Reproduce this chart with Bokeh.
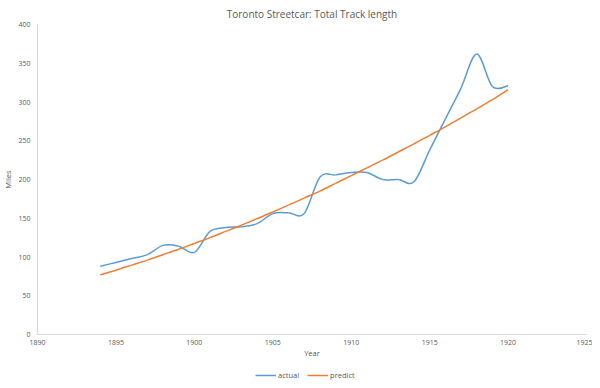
from bokeh.plotting import figure
from bokeh.layouts import column
from bokeh.models import Range1d, FixedTicker, Legend, LegendItem, ColumnDataSource
from bokeh.embed import file_html
from bokeh.resources import INLINE

years = [1894, 1895, 1896, 1897, 1898, 1899, 1900, 1901, 1902, 1903, 1904, 1905, 1906,
         1907, 1908, 1909, 1910, 1911, 1912, 1913, 1914, 1915, 1916, 1917, 1918, 1919, 1920]
actual = [88, 93, 98, 103, 115, 114, 106, 133, 138, 139, 143, 156, 157,
          156, 203, 206, 209, 209, 200, 200, 197, 238, 278, 318, 362, 320, 321]
predict = [77, 83, 89.5, 96, 103, 110, 117.5, 125, 133, 141, 149.5, 158, 167,
           176, 185, 195, 205, 215, 225, 235.5, 246, 257, 268, 279.5, 291, 303, 316]
x_ticks = [1890, 1895, 1900, 1905, 1910, 1915, 1920, 1925]
y_ticks = [0, 50, 100, 150, 200, 250, 300, 350, 400]

FONT = "Open Sans"
GREY = "#595959"
BLUE = "#5B9BD5"
ORANGE = "#ED7D31"


def bezier_segments(xs, ys):
    """Catmull-Rom style control points (like a smoothed spreadsheet line)."""
    n = len(xs)
    d = dict(x0=[], y0=[], x1=[], y1=[], cx0=[], cy0=[], cx1=[], cy1=[])
    for i in range(n - 1):
        xm, ym = (xs[i - 1], ys[i - 1]) if i > 0 else (xs[i], ys[i])
        xp, yp = (xs[i + 2], ys[i + 2]) if i + 2 < n else (xs[i + 1], ys[i + 1])
        d["x0"].append(xs[i]); d["y0"].append(ys[i])
        d["x1"].append(xs[i + 1]); d["y1"].append(ys[i + 1])
        d["cx0"].append(xs[i] + (xs[i + 1] - xm) / 6)
        d["cy0"].append(ys[i] + (ys[i + 1] - ym) / 6)
        d["cx1"].append(xs[i + 1] - (xp - xs[i]) / 6)
        d["cy1"].append(ys[i + 1] - (yp - ys[i]) / 6)
    return ColumnDataSource(d)


p = figure(width=592, height=364, output_backend="svg", toolbar_location=None,
           x_range=Range1d(1890, 1925), y_range=Range1d(0, 400),
           title="Toronto Streetcar: Total Track length",
           min_border_left=35, min_border_right=6, min_border_top=23, min_border_bottom=30)

p.title.align = "center"
p.title.offset = -12
p.title.text_font = FONT
p.title.text_font_size = "10px"
p.title.text_font_style = "normal"
p.title.text_color = GREY
p.title.standoff = 8

p.outline_line_color = None
p.xgrid.visible = False
p.ygrid.visible = False

for ax in (p.xaxis[0], p.yaxis[0]):
    ax.axis_line_color = "#D9D9D9"
    ax.major_tick_line_color = None
    ax.minor_tick_line_color = None
    ax.major_tick_out = 0
    ax.major_tick_in = 0
    ax.minor_tick_out = 0
    ax.minor_tick_in = 0
    ax.major_label_text_font = FONT
    ax.major_label_text_font_size = "7px"
    ax.major_label_text_color = GREY
    ax.axis_label_text_font = FONT
    ax.axis_label_text_font_size = "7.5px"
    ax.axis_label_text_font_style = "normal"
    ax.axis_label_text_color = GREY

p.xaxis[0].ticker = FixedTicker(ticks=x_ticks)
p.yaxis[0].ticker = FixedTicker(ticks=y_ticks)
p.xaxis[0].axis_label = "Year"
p.yaxis[0].axis_label = "Miles"
p.xaxis[0].major_label_standoff = 5
p.xaxis[0].axis_label_standoff = 0
p.yaxis[0].major_label_standoff = 7
p.yaxis[0].axis_label_standoff = 2

p.bezier(x0="x0", y0="y0", x1="x1", y1="y1", cx0="cx0", cy0="cy0", cx1="cx1", cy1="cy1",
         source=bezier_segments(years, actual), line_color=BLUE, line_width=1.5)
p.bezier(x0="x0", y0="y0", x1="x1", y1="y1", cx0="cx0", cy0="cy0", cx1="cx1", cy1="cy1",
         source=bezier_segments(years, predict), line_color=ORANGE, line_width=1.5)

# separate strip for the legend, under the chart
lg = figure(width=592, height=16, output_backend="svg", toolbar_location=None,
            x_range=Range1d(0, 1), y_range=Range1d(0, 1),
            x_axis_location=None, y_axis_location=None,
            min_border_left=0, min_border_right=0, min_border_top=0, min_border_bottom=0)
lg.grid.visible = False
lg.outline_line_color = None

r_a = lg.line(x=[-1], y=[-1], line_color=BLUE, line_width=1.5)
r_p = lg.line(x=[-1], y=[-1], line_color=ORANGE, line_width=1.5)

legend = Legend(items=[LegendItem(label="actual", renderers=[r_a]),
                       LegendItem(label="predict", renderers=[r_p])],
                orientation="horizontal", location=(218, 0),
                label_text_font=FONT, label_text_font_size="7.5px", label_text_color=GREY,
                glyph_width=21, glyph_height=8, label_height=8, label_standoff=2,
                spacing=8, padding=0, margin=0, border_line_color=None,
                background_fill_alpha=0)
lg.add_layout(legend, "center")

layout = column(p, lg, spacing=0)
open("out.html", "w").write(file_html(layout, INLINE))
